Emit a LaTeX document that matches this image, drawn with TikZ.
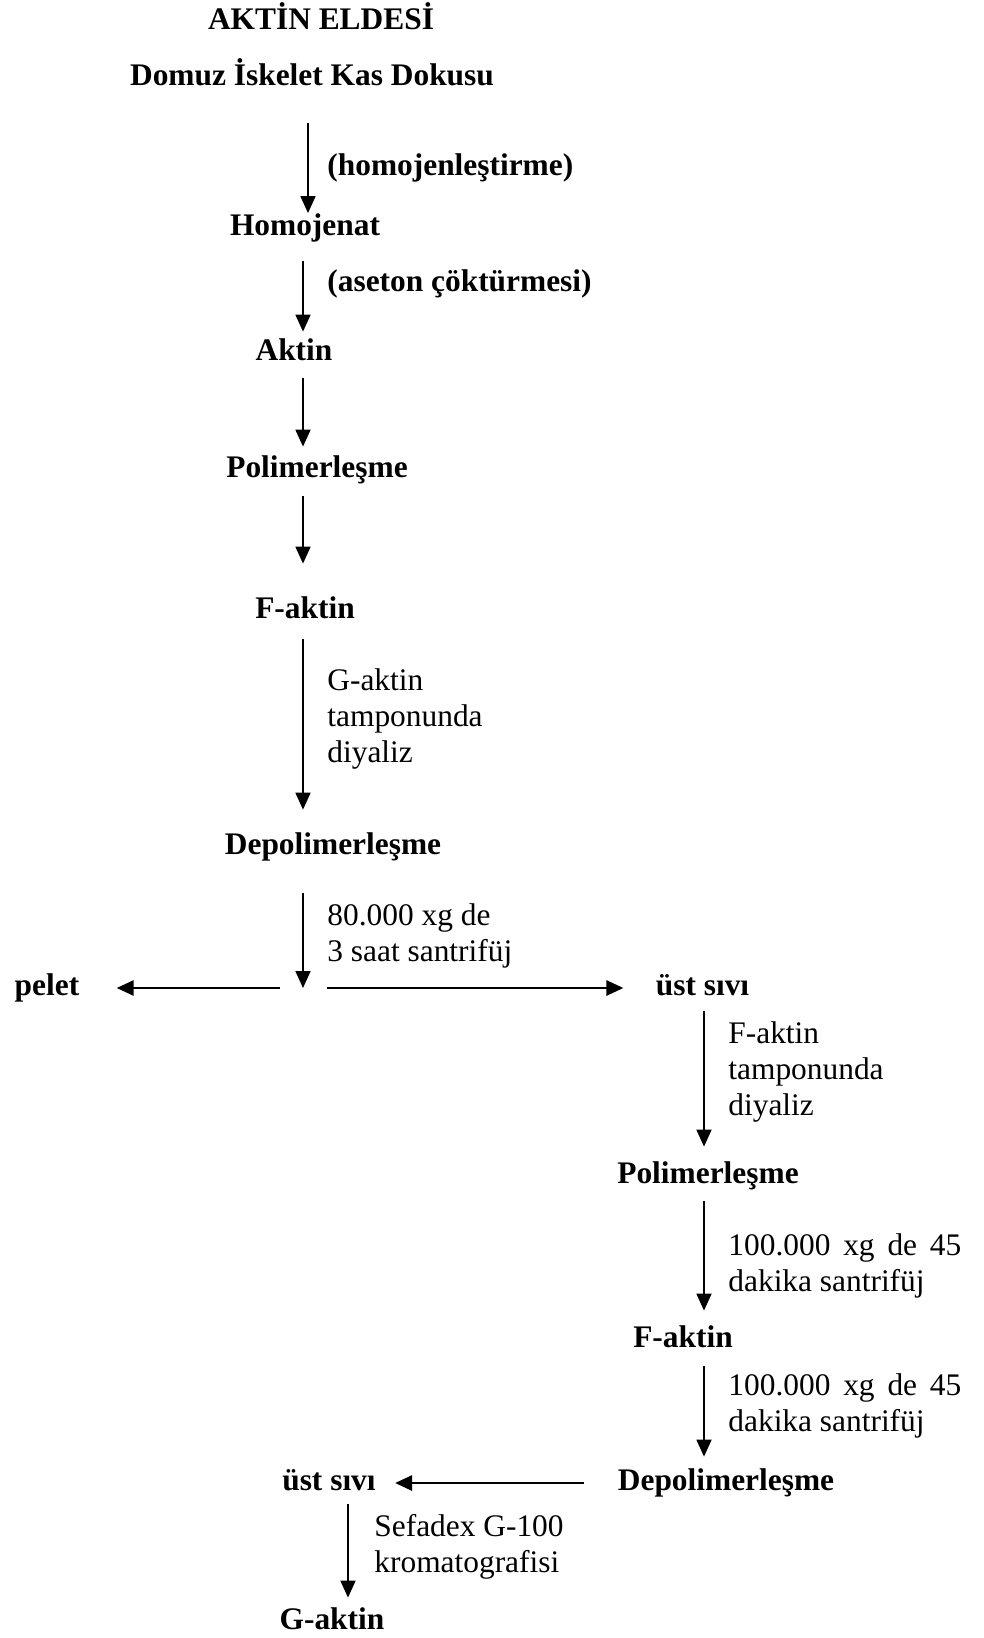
\documentclass[tikz,border=0pt]{standalone}
\usepackage{fontspec}
\setmainfont{Liberation Serif}
\usepackage{tikz}
\usetikzlibrary{positioning, arrows.meta, calc}

\tikzset{
  stage/.style={font=\bfseries, inner sep=0pt, anchor=base, text height=11pt, text depth=3.5pt},
  note/.style={inner sep=0pt, anchor=north west, align=left},
  flow/.style={->, line width=0.9pt},
  split/.style={->, line width=1.4pt}
}

\begin{document}
\fontsize{15.7pt}{18pt}\selectfont
\begin{tikzpicture}[x=0.5pt,y=-0.5pt,>={Triangle[length=8.5pt,width=7.5pt]}]
\useasboundingbox (0,0) rectangle (984,1638);
% columns of the vertical arrows
\coordinate (axisT) at (308,0);
\coordinate (axisA) at (303,0);
\coordinate (axisB) at (704,0);
\coordinate (axisC) at (348,0);
\coordinate (cut) at (303,988);

% upper chain
\node[stage] (title) at (321,29.5) {AKTİN ELDESİ};
\node[stage] (domuz) at (312,85.5) {Domuz İskelet Kas Dokusu};
\node[stage] (homojenat) at (305,235.5) {Homojenat};
\node[stage] (aktin) at (294,360.5) {Aktin};
\node[stage] (polim) at (317,477.5) {Polimerleşme};
\node[stage] (faktin) at (305,618.5) {F-aktin};
\node[stage] (depol) at (333,854.5) {Depolimerleşme};
\node[note,font=\bfseries] (homnote) at (327,153) {(homojenleştirme)};
\node[note,font=\bfseries] (asnote) at (327,269) {(aseton çöktürmesi)};
\node[note] (dianote) at (327,668) {G-aktin\\tamponunda\\diyaliz};
\node[note] (spinnote) at (327,903) {80.000 xg de\\3 saat santrifüj};

\draw[flow, shorten <=15.25pt] (domuz.south -| axisT) -- (homojenat.north -| axisT);
\draw[flow, shorten <=9.25pt, shorten >=3.25pt] (homojenat.south -| axisA) -- (aktin.north -| axisA);
\draw[flow, shorten <=5.25pt, shorten >=4.25pt] (aktin.south -| axisA) -- (polim.north -| axisA);
\draw[flow, shorten <=5.75pt, shorten >=16.25pt] (polim.south -| axisA) -- (faktin.north -| axisA);
\draw[flow, shorten <=6.75pt, shorten >=11.25pt] (faktin.south -| axisA) -- (depol.north -| axisA);
\draw[flow, shorten <=15.75pt] (depol.south -| axisA) -- (cut);

% split
\node[stage] (pelet) at (47,995.5) {pelet};
\node[stage] (ust) at (702.5,995.5) {üst sıvı};
\draw[split, shorten <=11.5pt, shorten >=18.5pt] (cut) -- (pelet.east);
\draw[split, shorten <=12pt, shorten >=16pt] (cut) -- (ust.west);

% lower chain
\node[stage] (polimB) at (708,1183.5) {Polimerleşme};
\node[stage] (faktinB) at (683,1347.5) {F-aktin};
\node[stage] (depolB) at (726,1490.5) {Depolimerleşme};
\node[stage] (ustB) at (329,1490.5) {üst sıvı};
\node[stage] (gaktin) at (332,1629.5) {G-aktin};
\node[note] (dianoteB) at (728,1021) {F-aktin\\tamponunda\\diyaliz};
\node[note,align=justify,text width=116.5pt] (spinB) at (728,1233) {100.000 xg de 45 dakika santrifüj};
\node[note,align=justify,text width=116.5pt] (spinC) at (728,1373) {100.000 xg de 45 dakika santrifüj};
\node[note] (colnote) at (374,1514) {Sefadex G-100\\kromatografisi};

\draw[flow, shorten <=4.25pt, shorten >=7.25pt] (ust.south -| axisB) -- (polimB.north -| axisB);
\draw[flow, shorten <=5.25pt, shorten >=7.25pt] (polimB.south -| axisB) -- (faktinB.north -| axisB);
\draw[flow, shorten <=5.75pt, shorten >=5.75pt] (faktinB.south -| axisB) -- (depolB.north -| axisB);
\draw[split, shorten <=16.5pt, shorten >=9.5pt] (depolB.west) -- (ustB.east);
\draw[flow, shorten <=3.25pt, shorten >=4.75pt] (ustB.south -| axisC) -- (gaktin.north -| axisC);
\end{tikzpicture}
\end{document}
